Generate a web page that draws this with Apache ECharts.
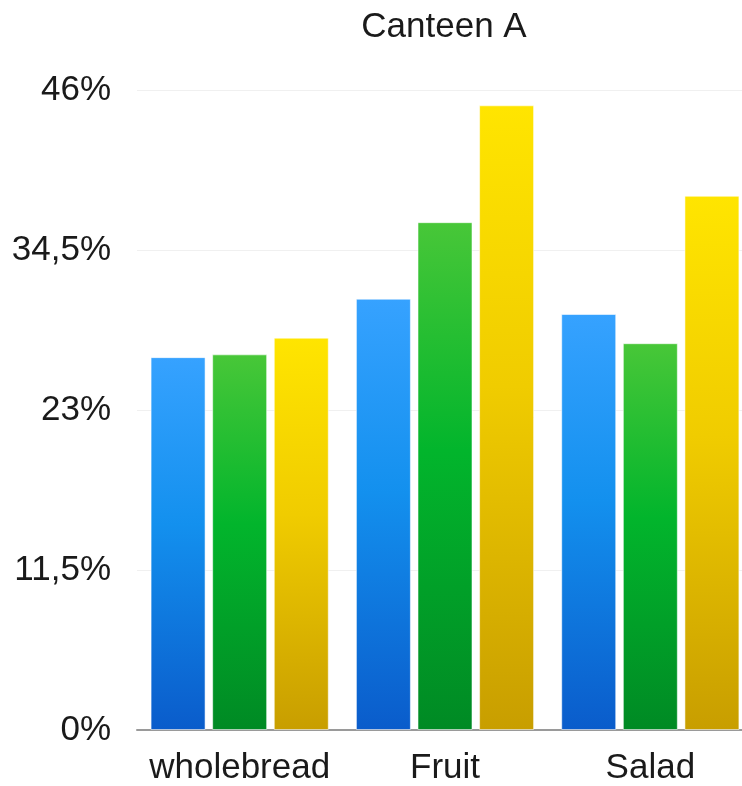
<!DOCTYPE html>
<html>
<head>
<meta charset="utf-8">
<style>
  html, body { margin: 0; padding: 0; background: #ffffff; }
  #chart { width: 742px; height: 786px; }
</style>
<script src="https://cdn.jsdelivr.net/npm/echarts@6/dist/echarts.min.js"></script>
</head>
<body>
<div id="chart"></div>
<script>
// Share of choices per food item, Canteen A (percent)
const categories = ['wholebread', 'Fruit', 'Salad'];
const seriesBlue = [26.8, 31.0, 29.9];
const seriesGreen = [27.0, 36.5, 27.8];
const seriesYellow = [28.2, 44.9, 38.4];
const yTicks = [0, 11.5, 23, 34.5, 46];

const FONT = '"Liberation Sans", Arial, Helvetica, sans-serif';

function vgrad(top, mid, bottom) {
  return new echarts.graphic.LinearGradient(0, 0, 0, 1, [
    { offset: 0, color: top },
    { offset: 0.45, color: mid },
    { offset: 1, color: bottom }
  ]);
}

const palette = [
  { data: seriesBlue, color: vgrad('#36a2ff', '#1390ee', '#0a5ccb') },
  { data: seriesGreen, color: vgrad('#48c738', '#02b52c', '#008a24') },
  { data: seriesYellow, color: vgrad('#ffe500', '#f0cc00', '#c89e00') }
];

const chart = echarts.init(document.getElementById('chart'), null, { renderer: 'canvas' });

chart.setOption({
  animation: false,
  backgroundColor: '#ffffff',
  title: {
    text: 'Canteen A',
    left: 439,
    top: 5,
    textAlign: 'center',
    textStyle: { fontFamily: FONT, fontSize: 35, fontWeight: 'normal', color: '#1a1a1a' }
  },
  // the plot runs past the right edge of the canvas, clipping the last bar
  grid: {
    left: 137, width: 616, top: 90, bottom: 56,
    containLabel: false,
    outerBoundsMode: 'none'
  },
  xAxis: {
    type: 'category',
    data: categories,
    axisLine: { show: true, lineStyle: { color: '#9a9a9a', width: 2 } },
    axisTick: { show: false },
    axisLabel: {
      fontFamily: FONT, fontSize: 35, color: '#1a1a1a', margin: 21,
      interval: 0, hideOverlap: false
    }
  },
  yAxis: {
    type: 'value',
    min: 0,
    max: 46,
    interval: 11.5,
    axisLine: { show: false },
    axisTick: { show: false },
    splitLine: { show: true, lineStyle: { color: '#f0f0f0', width: 1 } },
    axisLabel: {
      fontFamily: FONT,
      fontSize: 35,
      color: '#1a1a1a',
      margin: 26,
      customValues: yTicks,
      formatter: v => String(v).replace('.', ',') + '%'
    }
  },
  series: palette.map(p => ({
    type: 'bar',
    data: p.data,
    barWidth: 55,
    barGap: '12%',
    itemStyle: {
      color: p.color,
      borderColor: 'rgba(255,255,255,0.55)',
      borderWidth: 1
    }
  }))
});
</script>
</body>
</html>
